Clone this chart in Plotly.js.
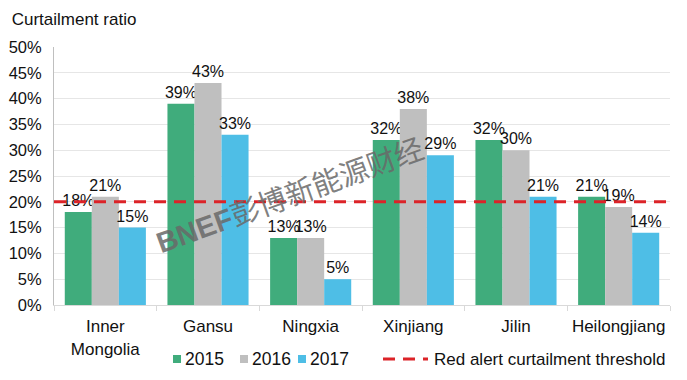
<!DOCTYPE html>
<html><head><meta charset="utf-8">
<script src="https://cdn.plot.ly/plotly-3.0.1.min.js"></script>
<style>body{margin:0;background:#fff}#chart{width:687px;height:380px}</style>
</head><body><div id="chart"></div>
<script>
const categories = ["Inner<br>Mongolia","Gansu","Ningxia","Xinjiang","Jilin","Heilongjiang"];
const series2015 = [18,39,13,32,32,21];
const series2016 = [21,43,13,38,30,19];
const series2017 = [15,33,5,29,21,14];
const threshold = 20;
const yTicks = [0,5,10,15,20,25,30,35,40,45,50];
const seriesNames = ['2015','2016','2017'];
const thresholdName = 'Red alert curtailment threshold';

const FONT = "Liberation Sans, Arial, sans-serif";
const COLORS = ['rgb(64,172,124)','rgb(191,191,191)','rgb(78,190,230)'];
const RED = 'rgb(220,35,40)';
const DASH = '12px,8px';

// plot area in pixels (for paper conversion of legend decorations)
const M = {l:54, r:17, t:47, b:75}, W = 687, H = 380;
const PW = W - M.l - M.r, PH = H - M.t - M.b;
const px = x => (x - M.l) / PW;
const py = y => (H - M.b - y) / PH;

function bar(i, y){
  return {type:'bar', name:seriesNames[i], x:categories, y:y, marker:{color:COLORS[i]},
    text:y.map(v=>v+'%'), textposition:'outside', cliponaxis:false, constraintext:'none',
    textfont:{family:FONT,size:16,color:'#111'}, hoverinfo:'skip', showlegend:false};
}
const traces = [
  bar(0, series2015), bar(1, series2016), bar(2, series2017),
  {type:'scatter', mode:'lines', name:thresholdName, xaxis:'x2',
   x:[0,1], y:[threshold,threshold], line:{color:RED, width:3, dash:DASH}, hoverinfo:'skip', showlegend:false}
];

// custom legend (decoration): square + label, then dashed sample + label
const legendY = 359;
const legendSquaresX = [173, 240, 298];
const shapes = [], annotations = [];
seriesNames.forEach((n,i)=>{
  const x0 = legendSquaresX[i];
  shapes.push({type:'rect', xref:'paper', yref:'paper', x0:px(x0), x1:px(x0+8), y0:py(legendY+4), y1:py(legendY-4),
    fillcolor:COLORS[i], line:{width:0}});
  annotations.push({text:n, xref:'paper', yref:'paper', x:px(x0+9.5), y:py(legendY), xanchor:'left', yanchor:'middle',
    showarrow:false, font:{family:FONT,size:17.5,color:'#111'}});
});
shapes.push({type:'line', xref:'paper', yref:'paper', x0:px(383), x1:px(428), y0:py(legendY), y1:py(legendY),
  line:{color:RED, width:3, dash:DASH}});
annotations.push({text:thresholdName, xref:'paper', yref:'paper', x:px(432), y:py(legendY), xanchor:'left', yanchor:'middle',
  showarrow:false, font:{family:FONT,size:17,color:'#111'}});
annotations.push({text:'<b>BNEF</b>彭博新能源财经', xref:'paper', yref:'paper', x:px(290), y:py(196),
  showarrow:false, textangle:-20, font:{family:'Liberation Sans, Noto Sans CJK SC, sans-serif', size:29, color:'rgba(105,105,105,0.85)'}});

const layout = {
  width:W, height:H, margin:M,
  paper_bgcolor:'#fff', plot_bgcolor:'#fff',
  font:{family:FONT,size:17,color:'#111'},
  barmode:'group', bargap:0.21, bargroupgap:0,
  showlegend:false,
  title:{text:'Curtailment ratio', x:0.017, xanchor:'left', y:0.95, yanchor:'middle', font:{family:FONT,size:17,color:'#111'}},
  xaxis:{type:'category', showgrid:false, showline:true, linecolor:'#d9d9d9', linewidth:1,
    ticks:'outside', tickson:'boundaries', ticklen:5, tickcolor:'#d9d9d9', ticklabelstandoff:6,
    tickfont:{family:FONT,size:17,color:'#111'}, fixedrange:true},
  xaxis2:{overlaying:'x', range:[0,1], visible:false, fixedrange:true},
  yaxis:{range:[0,50], tickvals:yTicks, ticktext:yTicks.map(v=>v+'%'), showgrid:true, gridcolor:'#e6e6e6',
    showline:true, linecolor:'#bfbfbf', linewidth:1, zeroline:false, ticklabelstandoff:8,
    tickfont:{family:FONT,size:16.5,color:'#111'}, ticks:'', ticklen:0, fixedrange:true},
  shapes:shapes, annotations:annotations
};
Plotly.newPlot('chart', traces, layout, {displayModeBar:false, staticPlot:true});
</script></body></html>
